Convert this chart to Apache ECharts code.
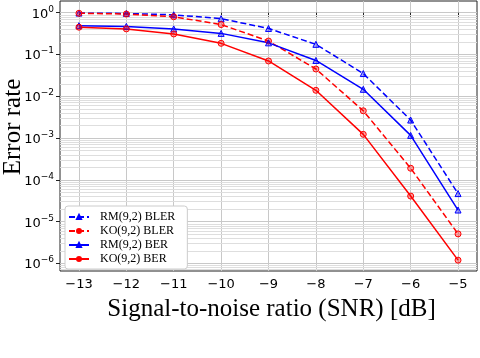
<!DOCTYPE html>
<html>
<head>
<meta charset="utf-8">
<script src="https://cdn.jsdelivr.net/npm/echarts@6/dist/echarts.min.js"></script>
<style>
  html, body { margin: 0; padding: 0; background: #fff; }
  #chart { width: 480px; height: 358px; }
</style>
</head>
<body>
<div id="chart"></div>
<script>
// SNR values (dB) on the x axis
const snr = [-13, -12, -11, -10, -9, -8, -7, -6, -5];
// error rates
const rmBler = [0.98, 0.96, 0.89, 0.72, 0.42, 0.175, 0.035, 0.0027, 4.7e-5];
const koBler = [0.97, 0.93, 0.80, 0.52, 0.21, 0.045, 0.0045, 1.9e-4, 5.1e-6];
const rmBer = [0.49, 0.47, 0.41, 0.32, 0.19, 0.072, 0.0147, 0.00116, 1.9e-5];
const koBer = [0.45, 0.41, 0.31, 0.185, 0.07, 0.0139, 0.00123, 4.1e-5, 1.2e-6];
// tick labels
const xTicks = [-13, -12, -11, -10, -9, -8, -7, -6, -5];
const yDecades = [-6, -5, -4, -3, -2, -1, 0];

const yMin = -6.18, yMax = 0.28;

// y axis is drawn in log10 space
function toLog(arr) {
  return snr.map((x, i) => [x, Math.log10(arr[i])]);
}

// minor grid lines at 2..9 x 10^n
let minorLines = [];
for (let n = -7; n <= 0; n++) {
  for (let k = 2; k <= 9; k++) {
    let v = n + Math.log10(k);
    if (v > yMin && v < yMax) minorLines.push({ yAxis: v });
  }
}

function decadeLabel(v) {
  let e = Math.round(v);
  let s = e < 0 ? '\u2212' + (-e) : '' + e;
  return '{b|10}{s|' + s + '}';
}

const serif = '"Liberation Serif", "DejaVu Serif", serif';
const sans = '"DejaVu Sans", sans-serif';

let myChart = echarts.init(document.getElementById('chart'));
myChart.setOption({
  animation: false,
  grid: {
    left: 60,
    right: 3,
    top: 1,
    bottom: 87,
    outerBoundsMode: 'none',
    containLabel: false,
    show: true,
    borderColor: '#222',
    borderWidth: 1,
    backgroundColor: 'transparent'
  },
  legend: {
    data: ['RM(9,2) BLER', 'KO(9,2) BLER', 'RM(9,2) BER', 'KO(9,2) BER'],
    orient: 'vertical',
    left: 65,
    top: 206,
    itemWidth: 20,
    itemHeight: 5,
    itemGap: 0,
    padding: [4, 12, 3, 3],
    backgroundColor: '#fff',
    borderColor: '#ccc',
    borderWidth: 1,
    borderRadius: 3,
    textStyle: { fontFamily: serif, fontSize: 12, lineHeight: 14, color: '#000', padding: [0, 0, 0, 6] }
  },
  xAxis: {
    type: 'value',
    min: -13.4,
    max: -4.6,
    name: 'Signal-to-noise ratio (SNR) [dB]',
    nameLocation: 'middle',
    nameGap: 26,
    nameTextStyle: { fontFamily: serif, fontSize: 25, color: '#000', padding: [0, 0, 0, 6] },
    axisLine: { show: false },
    axisTick: { show: true, length: 4, customValues: xTicks, lineStyle: { color: '#222' } },
    axisLabel: {
      customValues: xTicks,
      margin: 7,
      fontFamily: sans,
      fontSize: 13,
      color: '#000',
      formatter: v => (v < 0 ? '\u2212' + (-v) : '' + v)
    },
    splitLine: { show: true, lineStyle: { color: '#c8c8c8', width: 1 } }
  },
  yAxis: {
    type: 'value',
    min: yMin,
    max: yMax,
    name: 'Error rate',
    nameLocation: 'middle',
    nameGap: 34,
    nameMoveOverlap: false,
    nameTextStyle: { fontFamily: serif, fontSize: 25, color: '#000', padding: [0, 0, 0, 18] },
    axisLine: { show: false },
    axisTick: { show: true, length: 4, customValues: yDecades, lineStyle: { color: '#222' } },
    axisLabel: {
      customValues: yDecades,
      margin: 6,
      formatter: decadeLabel,
      rich: {
        b: { fontFamily: sans, fontSize: 13, color: '#000', lineHeight: 16, verticalAlign: 'bottom' },
        s: { fontFamily: sans, fontSize: 9, color: '#000', lineHeight: 16, verticalAlign: 'top' }
      }
    },
    splitLine: { show: true, lineStyle: { color: '#c8c8c8', width: 1 } }
  },
  series: [
    {
      // helper series holding the minor grid lines
      name: 'minor',
      type: 'line',
      data: [],
      silent: true,
      markLine: {
        silent: true,
        z: 1,
        symbol: ['none', 'none'],
        label: { show: false },
        lineStyle: { color: '#dedede', width: 1, type: 'solid' },
        data: minorLines,
        animation: false
      }
    },
    {
      name: 'RM(9,2) BLER',
      type: 'line',
      data: toLog(rmBler),
      symbol: 'triangle',
      symbolSize: 6,
      lineStyle: { color: '#0000ff', width: 1.5, type: [6, 3] },
      itemStyle: { color: 'rgba(0,0,255,0.35)', borderColor: '#0000ff', borderWidth: 1 },
      z: 3
    },
    {
      name: 'KO(9,2) BLER',
      type: 'line',
      data: toLog(koBler),
      symbol: 'circle',
      symbolSize: 6,
      lineStyle: { color: '#ff0000', width: 1.5, type: [6, 3] },
      itemStyle: { color: 'rgba(255,0,0,0.35)', borderColor: '#ff0000', borderWidth: 1 },
      z: 3
    },
    {
      name: 'RM(9,2) BER',
      type: 'line',
      data: toLog(rmBer),
      symbol: 'triangle',
      symbolSize: 6,
      lineStyle: { color: '#0000ff', width: 1.5 },
      itemStyle: { color: 'rgba(0,0,255,0.35)', borderColor: '#0000ff', borderWidth: 1 },
      z: 3
    },
    {
      name: 'KO(9,2) BER',
      type: 'line',
      data: toLog(koBer),
      symbol: 'circle',
      symbolSize: 6,
      lineStyle: { color: '#ff0000', width: 1.5 },
      itemStyle: { color: 'rgba(255,0,0,0.35)', borderColor: '#ff0000', borderWidth: 1 },
      z: 3
    }
  ]
});
</script>
</body>
</html>
